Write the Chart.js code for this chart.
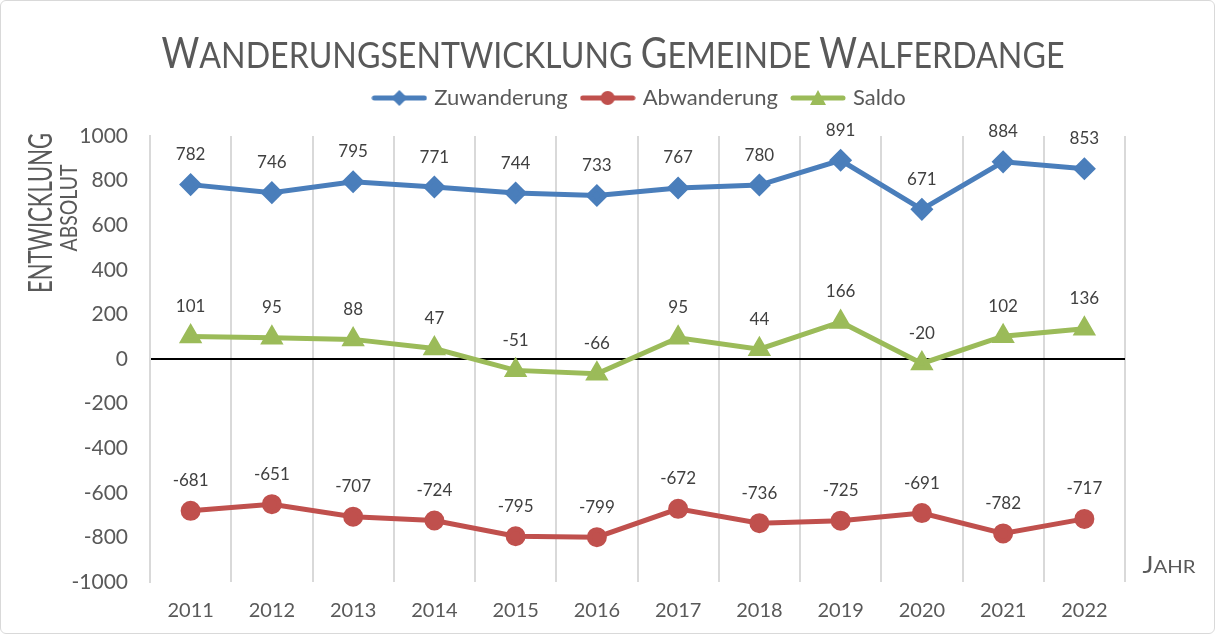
<!DOCTYPE html>
<html lang="de">
<head>
<meta charset="UTF-8">
<script src="https://cdn.jsdelivr.net/npm/chart.js"></script>
<title>Wanderungsentwicklung Gemeinde Walferdange</title>
<style>
    body { margin: 0; background: #fff; }
    .rahmen { width: 1213px; height: 632px; border: 1px solid #d9d9d9; border-radius: 6px; overflow: hidden; }
</style>
</head>
<body>
<div class="rahmen"><canvas id="grafik" width="1213" height="632"></canvas></div>

<script>
    var jahre = ['2011', '2012', '2013', '2014', '2015', '2016', '2017', '2018', '2019', '2020', '2021', '2022']
    var zuwanderung = [782, 746, 795, 771, 744, 733, 767, 780, 891, 671, 884, 853]
    var abwanderung = [-681, -651, -707, -724, -795, -799, -672, -736, -725, -691, -782, -717]
    var saldo = [101, 95, 88, 47, -51, -66, 95, 44, 166, -20, 102, 136]
    var yMin = -1000, yMax = 1000, yStep = 200

    var schrift = 'Lato'
    var grau = '#595959'

    // kleine Bildchen fuer die Legende: Linie mit Marker
    function legendenSymbol(farbe, form) {
        var c = document.createElement('canvas')
        c.width = 56; c.height = 18
        var g = c.getContext('2d')
        g.strokeStyle = farbe; g.lineWidth = 5; g.lineCap = 'round'
        g.beginPath(); g.moveTo(3, 9); g.lineTo(53, 9); g.stroke()
        g.fillStyle = farbe
        g.beginPath()
        if (form == 'raute') { g.moveTo(28, 1); g.lineTo(36, 9); g.lineTo(28, 17); g.lineTo(20, 9) }
        else if (form == 'kreis') { g.arc(28, 9, 7, 0, Math.PI * 2) }
        else { g.moveTo(28, 1); g.lineTo(36, 16); g.lineTo(20, 16) }
        g.closePath(); g.fill()
        return c
    }

    // Text in Kapitaelchen, zentriert auf x, Grundlinie y, auf breite gestaucht
    function kapitaelchen(ctx, text, x, y, gross, klein, breite) {
        var teile = []
        text.split(' ').forEach((wort, i) => {
            if (i > 0) teile.push([' ', klein])
            teile.push([wort[0].toUpperCase(), gross])
            teile.push([wort.slice(1).toUpperCase(), klein])
        })
        var gesamt = 0
        teile.forEach(t => {
            ctx.font = t[1] + 'px ' + schrift
            t.push(ctx.measureText(t[0]).width)
            gesamt += t[2]
        })
        var sx = breite ? breite / gesamt : 1
        ctx.save()
        ctx.translate(x - gesamt * sx / 2, y)
        ctx.scale(sx, 1)
        ctx.textAlign = 'left'
        ctx.textBaseline = 'alphabetic'
        var pos = 0
        teile.forEach(t => {
            ctx.font = t[1] + 'px ' + schrift
            ctx.fillText(t[0], pos, 0)
            pos += t[2]
        })
        ctx.restore()
    }

    const werteBeschriftung = {
        id: 'werteBeschriftung',
        afterLayout(chart) {
            // Legende etwas nach rechts wie im Original
            chart.legend.left += 26
            chart.legend.right += 26
        },
        afterDatasetsDraw(chart) {
            const ctx = chart.ctx
            ctx.save()
            ctx.font = '17px ' + schrift
            ctx.fillStyle = '#404040'
            ctx.textAlign = 'center'
            ctx.textBaseline = 'middle'
            chart.data.datasets.forEach((ds, i) => {
                chart.getDatasetMeta(i).data.forEach((pt, j) => {
                    ctx.fillText(ds.data[j], pt.x, pt.y - 30)
                })
            })
            ctx.restore()
        }
    }

    const titelTexte = {
        id: 'titelTexte',
        afterDraw(chart) {
            const ctx = chart.ctx
            ctx.save()
            ctx.fillStyle = grau
            kapitaelchen(ctx, 'Wanderungsentwicklung Gemeinde Walferdange', 612, 67, 42, 37, 903)
            kapitaelchen(ctx, 'Jahr', 1168, 572, 23, 18, 53)
            ctx.save()
            ctx.translate(50.5, 212)
            ctx.rotate(-Math.PI / 2)
            kapitaelchen(ctx, 'Entwicklung', 0, 0, 32, 32, 160)
            ctx.restore()
            ctx.save()
            ctx.translate(76, 207)
            ctx.rotate(-Math.PI / 2)
            kapitaelchen(ctx, 'Absolut', 0, 0, 24, 24, 87)
            ctx.restore()
            ctx.restore()
        }
    }

    var daten = {
        labels: jahre,
        datasets: [{
            label: 'Zuwanderung',
            data: zuwanderung,
            borderColor: '#4a7ebb',
            backgroundColor: '#4a7ebb',
            borderWidth: 5,
            pointStyle: 'rectRot',
            pointRadius: 8,
            tension: 0
        }, {
            label: 'Abwanderung',
            data: abwanderung,
            borderColor: '#c0504d',
            backgroundColor: '#c0504d',
            borderWidth: 5,
            pointStyle: 'circle',
            pointRadius: 7.5,
            tension: 0
        }, {
            label: 'Saldo',
            data: saldo,
            borderColor: '#9bbb59',
            backgroundColor: '#9bbb59',
            borderWidth: 5,
            pointStyle: 'triangle',
            pointRadius: 8.5,
            tension: 0
        }]
    }
    var symbole = [legendenSymbol('#4a7ebb', 'raute'), legendenSymbol('#c0504d', 'kreis'), legendenSymbol('#9bbb59', 'dreieck')]

    const grafikChart = new Chart(document.getElementById('grafik'), {
        type: 'line',
        data: daten,
        options: {
            responsive: false,
            animation: false,
            devicePixelRatio: 1,
            layout: { padding: { top: 70, right: 0, left: 14, bottom: 0 } },
            plugins: {
                title: { display: false },
                legend: {
                    labels: {
                        color: grau,
                        font: { family: schrift, size: 22 },
                        usePointStyle: true,
                        pointStyleWidth: 48,
                        padding: 16,
                        generateLabels(chart) {
                            var items = Chart.defaults.plugins.legend.labels.generateLabels(chart)
                            items.forEach((it, i) => { it.pointStyle = symbole[i] })
                            return items
                        }
                    }
                },
                tooltip: { enabled: false }
            },
            scales: {
                x: {
                    offset: true,
                    grid: { offset: true, color: '#d9d9d9', lineWidth: 2, drawTicks: false },
                    border: { display: false },
                    ticks: { color: grau, font: { family: schrift, size: 20 }, padding: 17 },
                    afterFit: s => { s.height = 51 }
                },
                // leere Achsen nur als Abstand oben und rechts
                xOben: {
                    type: 'category',
                    position: 'top',
                    grid: { display: false },
                    border: { display: false },
                    ticks: { display: false },
                    afterFit: s => { s.height = 17 }
                },
                y: {
                    min: yMin,
                    max: yMax,
                    grid: {
                        drawTicks: false,
                        color: c => c.tick && c.tick.value === 0 ? '#000' : 'rgba(0,0,0,0)',
                        lineWidth: 2
                    },
                    border: { color: '#d9d9d9', width: 2 },
                    ticks: { stepSize: yStep, color: grau, font: { family: schrift, size: 21 }, padding: 22, callback: v => String(v) },
                    afterFit: s => { s.width = 135 }
                },
                yRechts: {
                    type: 'linear',
                    position: 'right',
                    grid: { display: false },
                    border: { display: false },
                    ticks: { display: false },
                    afterFit: s => { s.width = 89 }
                }
            }
        },
        plugins: [werteBeschriftung, titelTexte]
    });
</script>
</body>
</html>
